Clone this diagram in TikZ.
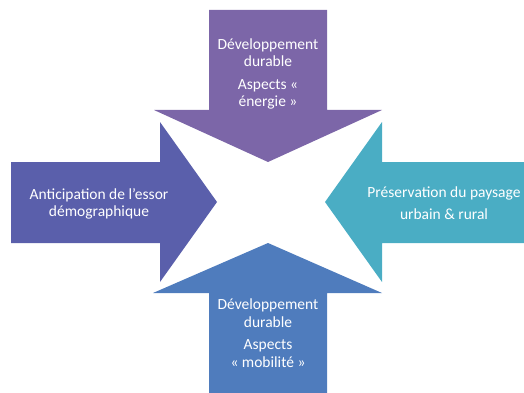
\documentclass[tikz,border=0pt]{standalone}
\usepackage{fontspec}
\setmainfont{Carlito}
\usepackage{tikz}

\definecolor{energie}{HTML}{7C66A8}
\definecolor{demo}{HTML}{5A5FAB}
\definecolor{paysage}{HTML}{4AADC4}
\definecolor{mobilite}{HTML}{4F7CBD}

\tikzset{
  bloc/.style={draw=none},
  txt/.style={text=white, align=center, font=\fontsize{15.5}{17.5}\selectfont, inner sep=0pt}
}

\begin{document}
\begin{tikzpicture}[x=1pt,y=-1pt]
    \useasboundingbox (0,0) rectangle (524,393);
    % the four arrows, pointing to the middle
    \fill[energie, bloc] (209,10) -- (327,10) -- (327,110) -- (382,110)
        -- (268,162) -- (154,110) -- (209,110) -- cycle;
    \fill[demo, bloc] (11,162) -- (160,162) -- (160,122) -- (217,202)
        -- (160,282) -- (160,243) -- (11,243) -- cycle;
    \fill[paysage, bloc] (524,162) -- (382,162) -- (382,122) -- (325,202)
        -- (382,282) -- (382,243) -- (524,243) -- cycle;
    \fill[mobilite, bloc] (209,393) -- (209,293) -- (153,293) -- (268,243)
        -- (382,293) -- (327,293) -- (327,393) -- cycle;
    % labels
    \node[txt] (haut) at (268,74) {Développement\\durable\\[5pt]Aspects «\\énergie »};
    \node[txt] (gauche) at (99,204) {Anticipation de l’essor\\démographique};
    \node[txt] (droite) at (444,203) {Préservation du paysage\\[5pt]urbain \& rural};
    \node[txt] (bas) at (268,333) {Développement\\durable\\[5pt]Aspects\\« mobilité »};
\end{tikzpicture}
\end{document}
